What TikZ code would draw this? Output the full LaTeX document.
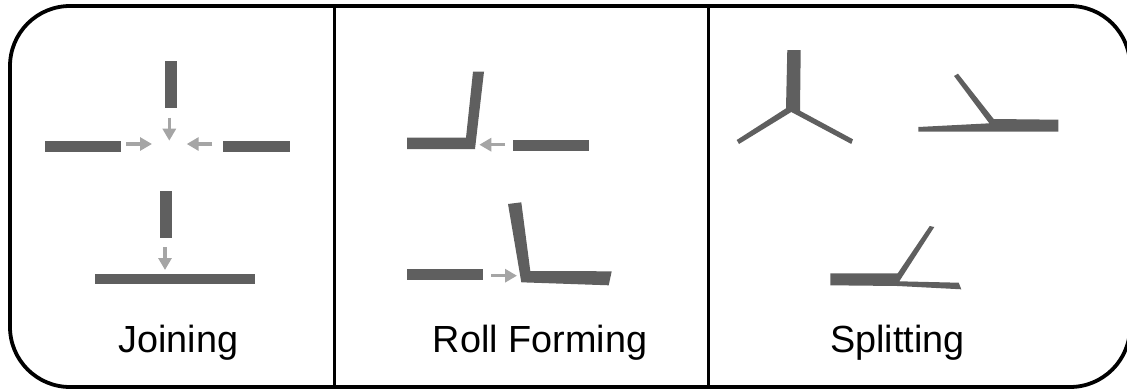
\documentclass[tikz,border=0pt]{standalone}
\usepackage{fontspec}
\setmainfont{Liberation Sans}
\usetikzlibrary{arrows.meta}
\definecolor{barcol}{RGB}{95,95,95}
\definecolor{arrcol}{RGB}{165,165,165}
\tikzset{
  shapefill/.style={fill=barcol,draw=none},
  moveline/.style={draw=arrcol,line width=3.5pt,-{Triangle[length=12pt,width=13pt]}},
  framepath/.style={draw=black,line width=3.8pt},
  caption/.style={font=\fontsize{37.8}{42}\selectfont,text=black,inner sep=0pt,anchor=base}
}
\begin{document}
\begin{tikzpicture}[x=1pt,y=-1pt]
\useasboundingbox (0,0) rectangle (1127,389);
\begin{scope}
\clip (0,0) rectangle (1127,389);
\draw[framepath,rounded corners=60pt] (10,6) rectangle (1130,387);
\end{scope}
\draw[framepath] (334.5,6) -- (334.5,387);
\draw[framepath] (708.5,6) -- (708.5,387);
% Joining
\fill[shapefill] (165,61) rectangle (177,108);
\fill[shapefill] (45,141) rectangle (121,152);
\fill[shapefill] (223,141) rectangle (290,152);
\fill[shapefill] (160,191) rectangle (172,238);
\fill[shapefill] (95,274) rectangle (255,284);
\coordinate (a1s) at (169.3,117.7); \coordinate (a1e) at (169.3,140.7);
\coordinate (a2s) at (126.3,144); \coordinate (a2e) at (152,144);
\coordinate (a3s) at (212.3,144); \coordinate (a3e) at (186.7,144);
\coordinate (a4s) at (165,247); \coordinate (a4e) at (165,270);
\draw[moveline] (a1s) -- (a1e);
\draw[moveline] (a2s) -- (a2e);
\draw[moveline] (a3s) -- (a3e);
\draw[moveline] (a4s) -- (a4e);
% Roll forming
\fill[shapefill] (407,137.7) -- (466,137.7) -- (473,71.7) -- (484,71.7) -- (475,149) -- (407,149) -- cycle;
\fill[shapefill] (513,140) rectangle (589,151);
\fill[shapefill] (508,204) -- (521.3,202.3) -- (530.3,271) -- (611.7,271.3) -- (608.7,285.3) -- (521.3,282.3) -- cycle;
\fill[shapefill] (407,269) rectangle (483,280);
\coordinate (a5s) at (505,144.7); \coordinate (a5e) at (479.3,144.7);
\coordinate (a6s) at (491,275.7); \coordinate (a6e) at (517,275.7);
\draw[moveline] (a5s) -- (a5e);
\draw[moveline] (a6s) -- (a6e);
% Splitting
\fill[shapefill] (787.3,50) -- (800.7,50) -- (800,110.7) -- (853,139.3) -- (851.3,144) -- (791.3,112) -- (739,144) -- (736.7,140) -- (786,108.3) -- cycle;
\fill[shapefill] (954,76) -- (958,73.7) -- (993.7,119) -- (1058.3,119.7) -- (1058.3,131.7) -- (918.3,131.7) -- (918.3,127) -- (989.3,123.3) -- cycle;
\fill[shapefill] (929.7,226) -- (934.3,227) -- (899.3,281.3) -- (958.7,282.7) -- (961.3,289.3) -- (897.7,286) -- (830.3,285.3) -- (830.3,273.3) -- (897.7,273.3) -- cycle;
% captions
\node[caption] (joining) at (178.5,352) {Joining};
\node[caption] (rollforming) at (540,352) {Roll Forming};
\node[caption] (splitting) at (897.5,352) {Splitting};
\end{tikzpicture}
\end{document}
